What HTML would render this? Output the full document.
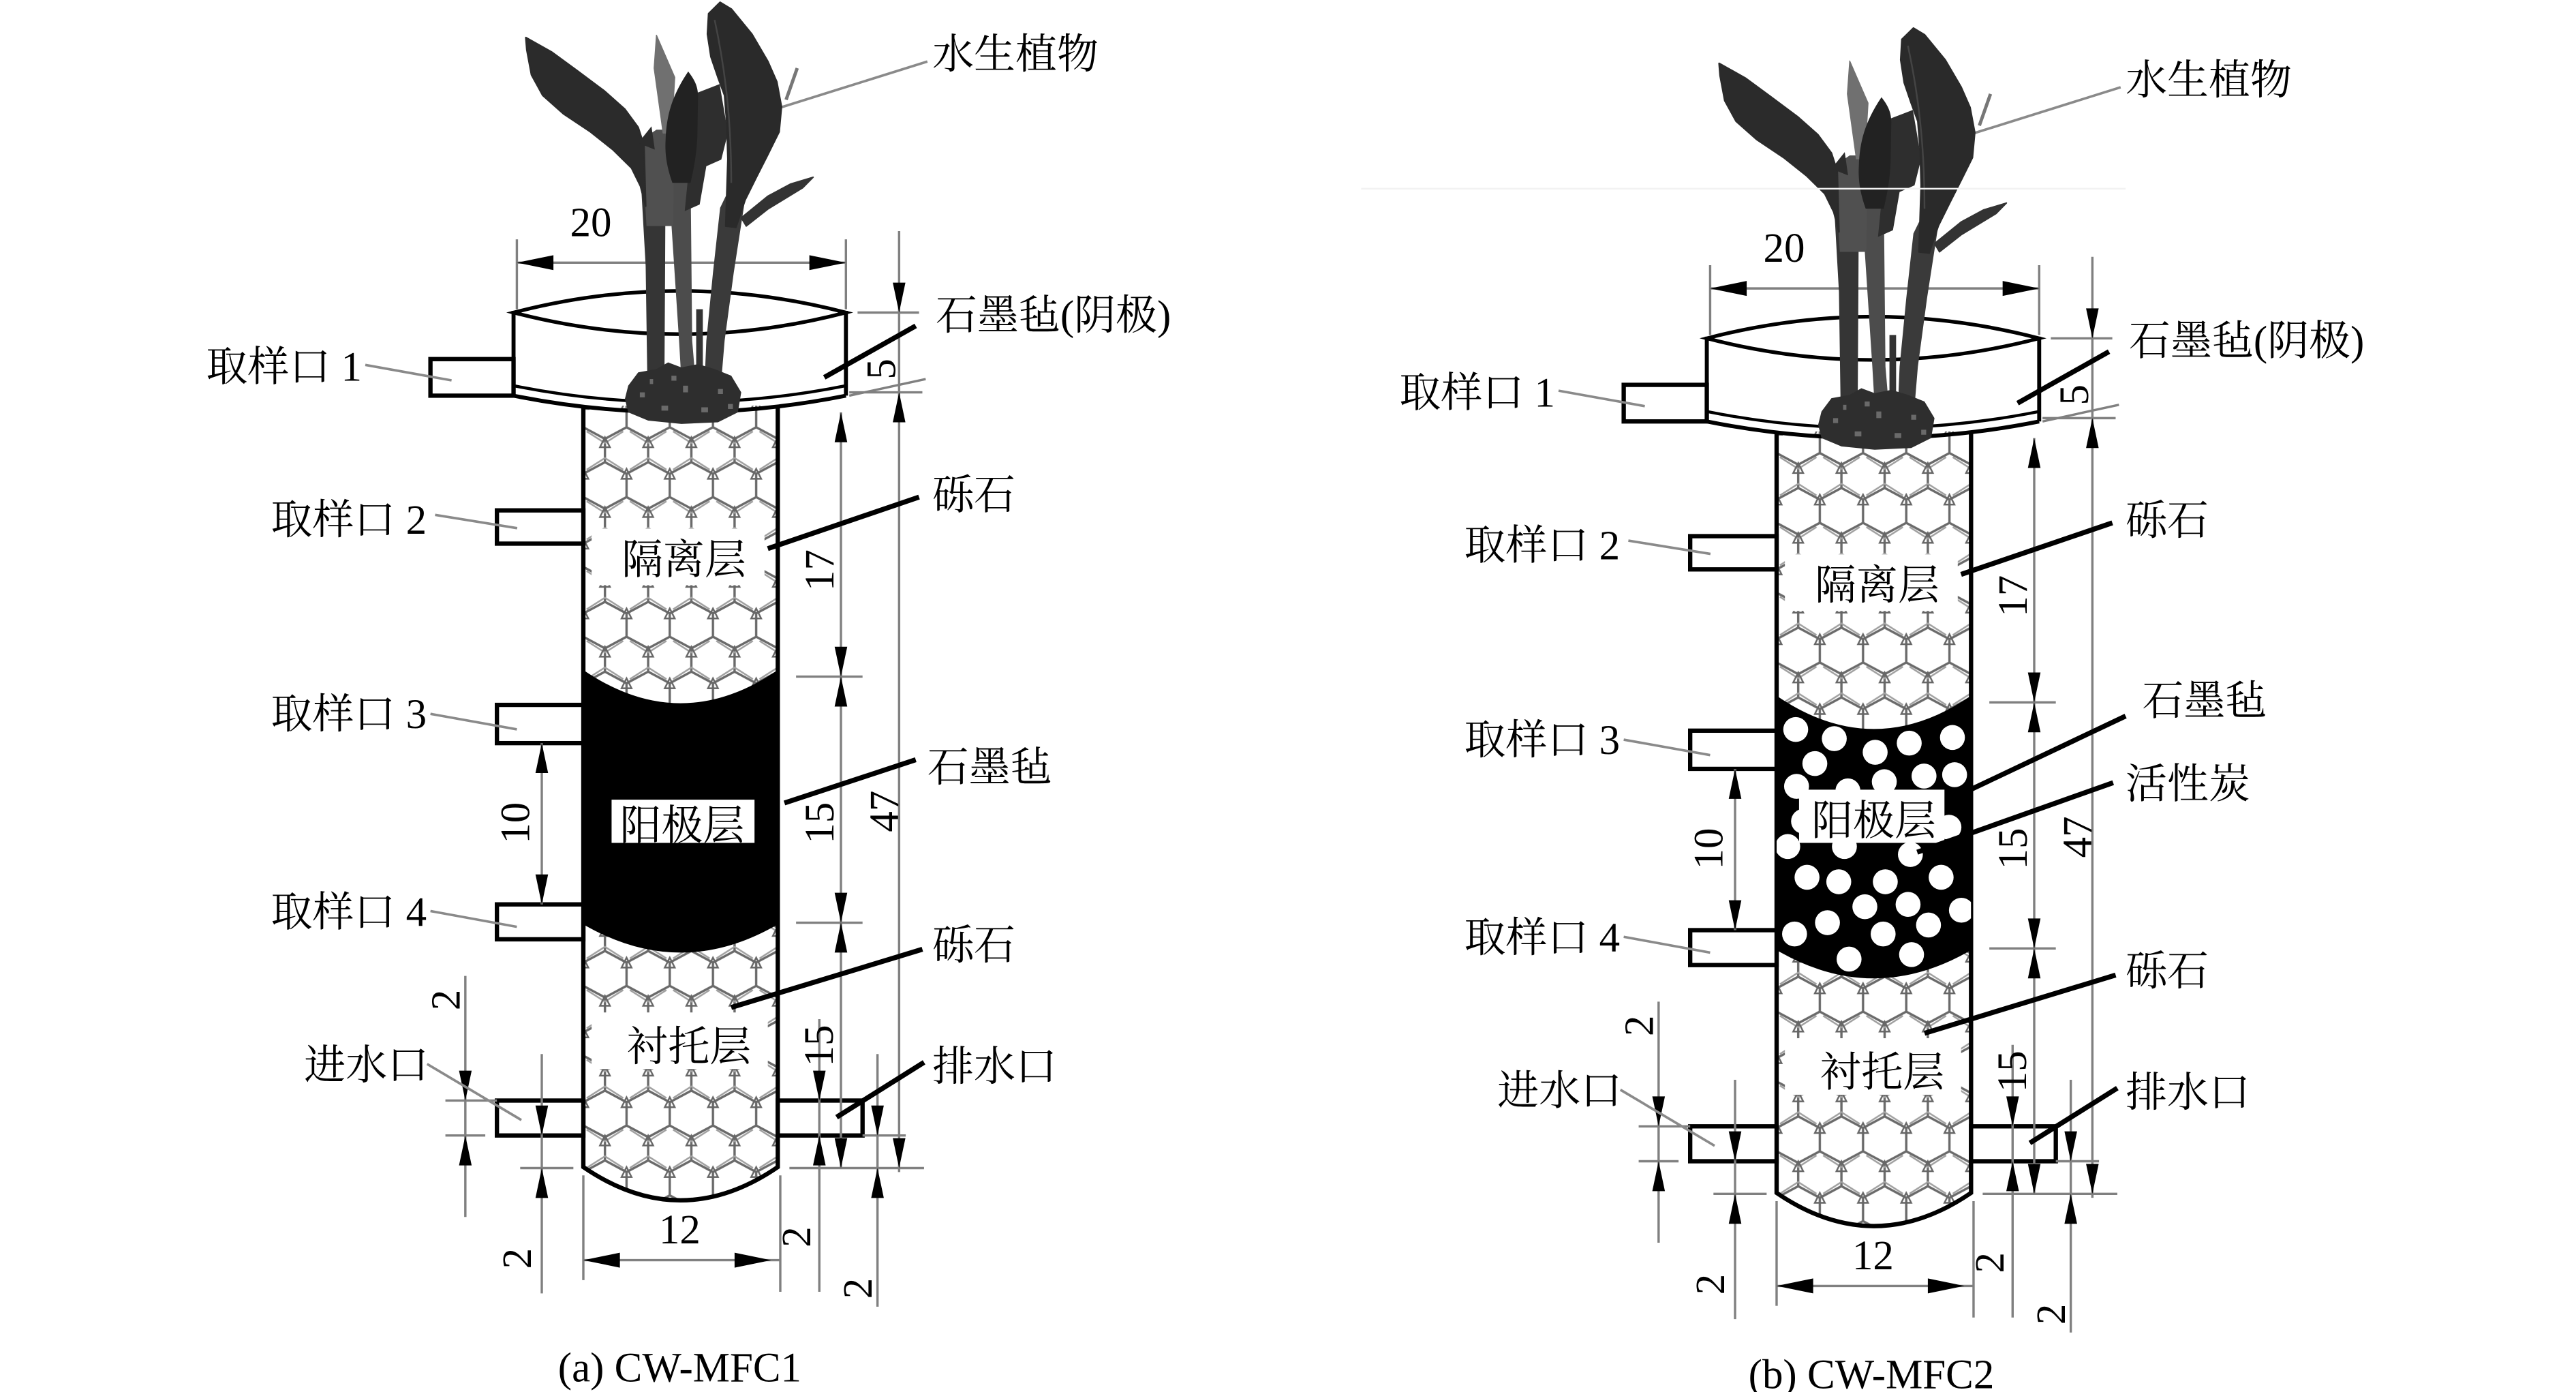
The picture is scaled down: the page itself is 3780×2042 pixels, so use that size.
<!DOCTYPE html>
<html>
<head>
<meta charset="utf-8">
<style>
html,body{margin:0;padding:0;background:#fff;}
svg{display:block;}
text{font-family:"Liberation Serif","Noto Serif CJK SC","Noto Serif CJK JP",serif;font-size:25px;fill:#000;}
</style>
</head>
<body>
<svg width="3780" height="2042" viewBox="0 0 1550 837.3" preserveAspectRatio="none" xmlns="http://www.w3.org/2000/svg" xmlns:xlink="http://www.w3.org/1999/xlink">
<defs>
<pattern id="grav" patternUnits="userSpaceOnUse" x="351" y="250" width="52" height="42">
<rect width="52" height="42" fill="#fff"/>
<path d="M0,7 L13,14 L26,7 L39,14 L52,7 M0,35 L13,28 L26,35 L39,28 L52,35 M0,-7 V7 M26,-7 V7 M52,-7 V7 M13,14 V28 M39,14 V28 M0,35 V49 M26,35 V49 M52,35 V49" stroke="#6a6a6a" stroke-width="1.4" fill="none"/>
<path d="M2,9.5 L13,16.5 L24,9.5 M28,9.5 L39,16.5 L50,9.5 M2,32.5 L13,25.5 L24,32.5 M28,32.5 L39,25.5 L50,32.5" stroke="#a0a0a0" stroke-width="1" fill="none"/>
<path d="M10,19 L13,13 L16,19 Z M36,19 L39,13 L42,19 Z M23,38 L26,32 L29,38 Z M-3,38 L0,32 L3,38 Z M49,38 L52,32 L55,38 Z M23,-4 L26,-10 L29,-4 Z" stroke="#666" stroke-width="1" fill="none"/>
</pattern>
<clipPath id="anodeR">
<path d="M1069,418.5 Q1127.5,458.5 1186,418.5 L1186,571.5 Q1127.5,605.5 1069,571.5 Z"/>
</clipPath>
</defs>

<rect x="0" y="0" width="1550" height="837.3" fill="#fff"/>

<g id="fig">
 <!-- column gravel -->
 <path d="M351,244 L351,702 Q409.5,742 468,702 L468,244 Z" fill="url(#grav)"/>
 <rect x="356" y="318" width="104" height="34" fill="#fff"/>
 <rect x="356" y="609" width="106" height="34" fill="#fff"/>
 <path d="M351,244 L351,702 Q409.5,742 468,702 L468,244" fill="none" stroke="#000" stroke-width="2.6"/>
 <!-- cup -->
 <path d="M309,188 Q409,162 509,188 Q409,214 309,188 Z" fill="none" stroke="#000" stroke-width="2.2"/>
 <path d="M309,187 V238 M509,187 V238" stroke="#000" stroke-width="2.4" fill="none"/>
 <path d="M309,238 Q409,258 509,238" fill="none" stroke="#000" stroke-width="2.4"/>
 <path d="M309,232 Q409,252 509,232" fill="none" stroke="#000" stroke-width="1.8"/>
 <!-- ports -->
 <g fill="#fff" stroke="#000" stroke-width="2.6">
  <rect x="259" y="216" width="50" height="22"/>
  <rect x="299" y="307" width="52" height="20"/>
  <rect x="299" y="424" width="52" height="23"/>
  <rect x="299" y="544" width="52" height="21"/>
  <rect x="299" y="662" width="52" height="21"/>
  <rect x="468" y="662" width="51" height="21"/>
 </g>
 <!-- dimension lines -->
 <g stroke="#808080" stroke-width="1.4" fill="none">
  <path d="M311,144 V186 M509,144 V186 M311,158 H509"/>
  <path d="M541,139 V705"/>
  <path d="M516,188 H553 M511,236 H555 M511,238 L557,228"/>
  <path d="M506,248 V702"/>
  <path d="M479,407 H519 M479,555 H519"/>
  <path d="M475,702.6 H556 M519,683 H545"/>
  <path d="M493,613 V777 M528,634 V786"/>
  <path d="M280,587 V732 M268,662 H299 M268,683 H292 M326,634 V778 M313,702.6 H345"/>
  <path d="M326,447 V544"/>
  <path d="M351,707 V770 M469.5,707 V777 M351,758 H469"/>
 </g>
 <!-- arrows -->
 <g fill="#000">
  <polygon points="311,158 333,153.5 333,162.5"/>
  <polygon points="509,158 487,153.5 487,162.5"/>
  <polygon points="541,188 537.2,170 544.8,170"/>
  <polygon points="541,236 537.2,254 544.8,254"/>
  <polygon points="541,702.6 537.2,684.6 544.8,684.6"/>
  <polygon points="506,248 502.2,266 509.8,266"/>
  <polygon points="506,407 502.2,389 509.8,389"/>
  <polygon points="506,407 502.2,425 509.8,425"/>
  <polygon points="506,555 502.2,537 509.8,537"/>
  <polygon points="506,555 502.2,573 509.8,573"/>
  <polygon points="506,702.6 502.2,684.6 509.8,684.6"/>
  <polygon points="493,662 489.2,644 496.8,644"/>
  <polygon points="493,683 489.2,701 496.8,701"/>
  <polygon points="528,683 524.2,665 531.8,665"/>
  <polygon points="528,702.6 524.2,720.6 531.8,720.6"/>
  <polygon points="280,662 276.2,644 283.8,644"/>
  <polygon points="280,683 276.2,701 283.8,701"/>
  <polygon points="326,683 322.2,665 329.8,665"/>
  <polygon points="326,702.6 322.2,720.6 329.8,720.6"/>
  <polygon points="326,447 322.2,465 329.8,465"/>
  <polygon points="326,544 322.2,526 329.8,526"/>
  <polygon points="351,758 373,753.5 373,762.5"/>
  <polygon points="464,758 442,753.5 442,762.5"/>
 </g>
 <!-- gray leaders -->
 <g stroke="#8a8a8a" stroke-width="1.5" fill="none">
  <path d="M459,68 L558,37"/>
  <path d="M219.8,219.5 L271.7,228.8"/>
  <path d="M261.8,309.7 L311.2,317.7"/>
  <path d="M259,429.4 L311,438.7"/>
  <path d="M259,548 L311,557.5"/>
  <path d="M257,640 L313.7,673.7"/>
 </g>
 <!-- black leaders -->
 <g stroke="#000" stroke-width="3" fill="none">
  <path d="M496,227 L551,196"/>
  <path d="M462,330 L553,299"/>
  <path d="M440,606 L555,571"/>
  <path d="M503.4,672 L556,639"/>
 </g>
 <!-- plant -->
 <g stroke-linejoin="round">
  <!-- stems -->
  <polygon points="385,98 400.5,98 400.2,160 399.8,228 389.5,228 388.5,160" fill="#353535"/>
  <polygon points="404,104 415.5,104 416.5,205 418.5,229 410,229 408.6,205 404,135" fill="#4c4c4c"/>
  <polygon points="436.7,118 448.3,120 441.5,164 436,205 434,229 424,229 425,205 429,164 433.3,125" fill="#3a3a3a"/>
  <rect x="418.9" y="186" width="4" height="42" fill="#333"/>
  <!-- gray base leaf & spike -->
  <polygon points="386,84 395,78 406,78 405,136 389,136" fill="#505050"/>
  <polygon points="395,21.2 406,46.5 404,80 399,80 393.6,41" fill="#707070" stroke="#707070" stroke-width="0.6"/>
  <!-- left leaf -->
  <polygon points="316.4,22.6 332.1,31.4 347.1,42.4 363.6,54.7 375.9,65.6 384,76.6 387.5,87.5 388.5,124 385.4,112 380,101 369,90.2 355.3,79.3 339,68.4 326.6,57.4 319.8,45 317,30" fill="#2b2b2b" stroke="#2b2b2b" stroke-width="1"/>
  <polygon points="384,86 392,76 394,90" fill="#2b2b2b"/>
  <!-- back dark leaf -->
  <polygon points="419,56 433,50.6 438,80 434,96 425,100 421,123 412,127" fill="#2e2e2e"/>
  <!-- middle dark leaf -->
  <path d="M414.1,43 C418,48 420,52 420,58 L419.6,82 C419,95 417,103 415.5,110 L404.6,110 C401,100 400,92 400.5,84 C401,70 404,58 414.1,43 Z" fill="#222"/>
  <!-- right big leaf -->
  <polygon points="433.3,1.4 440.1,5.5 452.4,20.5 462,36.9 467.4,49.2 470.2,64.2 468.8,79.3 462,93 455.1,106.6 448.3,120.3 442.8,136.7 436.7,136 438,95.7 437.4,75 436,57.4 432,46.5 427.8,34.2 425.7,20.5 426.4,8.2" fill="#2a2a2a" stroke="#2a2a2a" stroke-width="1"/>
  <path d="M430,12 C436,40 440,70 440,110" stroke="#444" stroke-width="1" fill="none"/>
  <!-- right small leaf -->
  <polygon points="446,131 462,118 475.6,110.7 489.3,106.6 483,113 462,125.8 449,136" fill="#333" stroke="#333" stroke-width="0.8"/>
  <path d="M479.7,41 L473,60" stroke="#777" stroke-width="2"/>
  <!-- roots -->
  <polygon points="378,232 384,224 395,222 402,218 410,221 420,219 430,222 440,226 446,236 444,248 432,254 410,255 390,253 378,248 376,240" fill="#2e2e2e"/>
  <g fill="#6a6a6a">
   <rect x="385" y="236" width="3" height="3"/>
   <rect x="398" y="244" width="4" height="3"/>
   <rect x="411" y="232" width="3" height="4"/>
   <rect x="422" y="245" width="4" height="3"/>
   <rect x="432" y="234" width="3" height="3"/>
   <rect x="404" y="226" width="3" height="3"/>
   <rect x="391" y="228" width="2" height="3"/>
   <rect x="438" y="243" width="3" height="3"/>
  </g>
 </g>
</g>

<!-- left anode -->
<path d="M351,403 Q409.5,443 468,403 L468,556 Q409.5,590 351,556 Z" fill="#000"/>
<rect x="368" y="481" width="86" height="26" fill="#fff"/>
<path d="M472,483 L551,457" stroke="#000" stroke-width="3"/>

<!-- right figure shapes -->
<use href="#fig" xlink:href="#fig" transform="translate(718,15.5)"/>
<path d="M819,113.5 H1279" stroke="#f2f2f2" stroke-width="1"/>
<path d="M1069,418.5 Q1127.5,458.5 1186,418.5 L1186,571.5 Q1127.5,605.5 1069,571.5 Z" fill="#000"/>
<g clip-path="url(#anodeR)" fill="#fff">
 <circle cx="1080.5" cy="438.8" r="7.5"/><circle cx="1103.7" cy="444.3" r="7.5"/><circle cx="1128.3" cy="452.5" r="7.5"/>
 <circle cx="1148.8" cy="447" r="7.5"/><circle cx="1174.8" cy="443.6" r="7.5"/><circle cx="1092" cy="459.3" r="7.5"/>
 <circle cx="1081" cy="473" r="7.5"/><circle cx="1111.9" cy="475.7" r="7.5"/><circle cx="1133.8" cy="470.2" r="7.5"/>
 <circle cx="1157.7" cy="466.8" r="7.5"/><circle cx="1176.1" cy="466" r="7.5"/><circle cx="1085.2" cy="494" r="7.5"/>
 <circle cx="1172.7" cy="497.6" r="7.5"/><circle cx="1075.7" cy="509.2" r="7.5"/><circle cx="1109.8" cy="509.2" r="7.5"/>
 <circle cx="1149.5" cy="514" r="7.5"/><circle cx="1087.3" cy="527.7" r="7.5"/><circle cx="1106.4" cy="530.4" r="7.5"/>
 <circle cx="1134.4" cy="530.4" r="7.5"/><circle cx="1168" cy="527.7" r="7.5"/><circle cx="1122.1" cy="545.4" r="7.5"/>
 <circle cx="1148.1" cy="544" r="7.5"/><circle cx="1180.2" cy="547.5" r="7.5"/><circle cx="1099.6" cy="555" r="7.5"/>
 <circle cx="1160.4" cy="556.4" r="7.5"/><circle cx="1079.8" cy="561.8" r="7.5"/><circle cx="1133.1" cy="561.8" r="7.5"/>
 <circle cx="1112.6" cy="576.9" r="7.5"/><circle cx="1150.2" cy="574.2" r="7.5"/>
</g>
<rect x="1082.5" y="475" width="87.5" height="32" fill="#fff"/>
<path d="M1175.5,479.8 L1279,430.7" stroke="#000" stroke-width="3"/>
<path d="M1153.6,512.6 L1271.5,470.8" stroke="#000" stroke-width="3"/>

<!-- left text -->
<g>
 <text x="561" y="41">水生植物</text>
 <text x="343" y="142">20</text>
 <text x="563" y="198">石墨毡(阴极)</text>
 <text x="124" y="229">取样口 1</text>
 <text transform="translate(530,222) rotate(-90)" text-anchor="middle" y="8.5">5</text>
 <text x="561" y="306">砾石</text>
 <text x="163" y="321">取样口 2</text>
 <text x="374" y="345">隔离层</text>
 <text transform="translate(493,343) rotate(-90)" text-anchor="middle" y="8.5">17</text>
 <text x="163" y="438">取样口 3</text>
 <text transform="translate(310,495) rotate(-90)" text-anchor="middle" y="8.5">10</text>
 <text transform="translate(493,495) rotate(-90)" text-anchor="middle" y="8.5">15</text>
 <text transform="translate(532,488) rotate(-90)" text-anchor="middle" y="8.5">47</text>
 <text x="163" y="557">取样口 4</text>
 <text x="561" y="577">砾石</text>
 <text transform="translate(268,601.5) rotate(-90)" text-anchor="middle" y="8.5">2</text>
 <text x="377" y="638">衬托层</text>
 <text transform="translate(492.5,629) rotate(-90)" text-anchor="middle" y="8.5">15</text>
 <text x="183" y="649">进水口</text>
 <text x="561" y="650">排水口</text>
 <text x="409" y="748" text-anchor="middle">12</text>
 <text transform="translate(311,757) rotate(-90)" text-anchor="middle" y="8.5">2</text>
 <text transform="translate(479,744) rotate(-90)" text-anchor="middle" y="8.5">2</text>
 <text transform="translate(516,775) rotate(-90)" text-anchor="middle" y="8.5">2</text>
</g>
<text x="558" y="470">石墨毡</text>
<text x="373" y="505">阳极层</text>
<text x="409" y="831" text-anchor="middle">(a) CW-MFC1</text>

<!-- right text -->
<g transform="translate(718,15.5)">
 <text x="561" y="41">水生植物</text>
 <text x="343" y="142">20</text>
 <text x="563" y="198">石墨毡(阴极)</text>
 <text x="124" y="229">取样口 1</text>
 <text transform="translate(530,222) rotate(-90)" text-anchor="middle" y="8.5">5</text>
 <text x="561" y="306">砾石</text>
 <text x="163" y="321">取样口 2</text>
 <text x="374" y="345">隔离层</text>
 <text transform="translate(493,343) rotate(-90)" text-anchor="middle" y="8.5">17</text>
 <text x="163" y="438">取样口 3</text>
 <text transform="translate(310,495) rotate(-90)" text-anchor="middle" y="8.5">10</text>
 <text transform="translate(493,495) rotate(-90)" text-anchor="middle" y="8.5">15</text>
 <text transform="translate(532,488) rotate(-90)" text-anchor="middle" y="8.5">47</text>
 <text x="163" y="557">取样口 4</text>
 <text x="561" y="577">砾石</text>
 <text transform="translate(268,601.5) rotate(-90)" text-anchor="middle" y="8.5">2</text>
 <text x="377" y="638">衬托层</text>
 <text transform="translate(492.5,629) rotate(-90)" text-anchor="middle" y="8.5">15</text>
 <text x="183" y="649">进水口</text>
 <text x="561" y="650">排水口</text>
 <text x="409" y="748" text-anchor="middle">12</text>
 <text transform="translate(311,757) rotate(-90)" text-anchor="middle" y="8.5">2</text>
 <text transform="translate(479,744) rotate(-90)" text-anchor="middle" y="8.5">2</text>
 <text transform="translate(516,775) rotate(-90)" text-anchor="middle" y="8.5">2</text>
</g>
<text x="1289" y="430">石墨毡</text>
<text x="1279" y="480">活性炭</text>
<text x="1090" y="502">阳极层</text>
<text x="1126" y="835" text-anchor="middle">(b) CW-MFC2</text>
</svg>
</body>
</html>
